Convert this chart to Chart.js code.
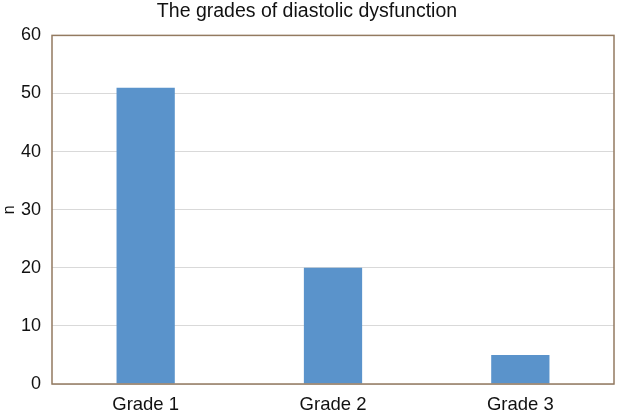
<!DOCTYPE html>
<html>
<head>
<meta charset="utf-8">
<script src="https://cdn.jsdelivr.net/npm/chart.js@4"></script>
<style>
  html, body { margin: 0; padding: 0; background: #fff; }
  #wrap { width: 624px; height: 411px; }
</style>
</head>
<body>
<div id="wrap"><canvas id="chart"></canvas></div>
<script>
const categories = ['Grade 1', 'Grade 2', 'Grade 3']
const counts = [51, 20, 5]
const yTicks = [0, 10, 20, 30, 40, 50, 60]

const fontFamily = "'Liberation Sans', Arial, sans-serif"

// Draws the brown frame round the plot area
const frame = {
  id: 'frame',
  afterDraw(chart) {
    const { ctx, chartArea: a } = chart
    ctx.save()
    ctx.strokeStyle = '#937a60'
    ctx.lineWidth = 1.5
    ctx.strokeRect(a.left, a.top, a.right - a.left, a.bottom - a.top)
    ctx.restore()
  }
}

const ctx = document.getElementById('chart').getContext('2d')
new Chart(ctx, {
  type: 'bar',
  data: {
    labels: categories,
    datasets: [{
      label: 'n',
      data: counts,
      backgroundColor: '#5a93cb',
      borderWidth: 0,
      categoryPercentage: 1,
      barPercentage: 0.311
    }]
  },
  options: {
    responsive: true,
    maintainAspectRatio: false,
    animation: false,
    devicePixelRatio: 1,
    layout: { padding: { left: 0, right: 10, top: 0, bottom: 0 } },
    plugins: {
      legend: { display: false },
      tooltip: { enabled: false },
      title: {
        display: true,
        text: 'The grades of diastolic dysfunction',
        color: '#111',
        font: { family: fontFamily, size: 19.5, weight: 'normal' },
        padding: { top: 0, bottom: 12 }
      }
    },
    scales: {
      x: {
        grid: { display: false },
        border: { display: false },
        ticks: {
          color: '#111',
          padding: 2,
          font: { family: fontFamily, size: 18.5 }
        },
        afterFit(scale) { scale.height = 27 }
      },
      y: {
        min: 0,
        max: 60,
        afterBuildTicks(scale) { scale.ticks = yTicks.map(v => ({ value: v })) },
        grid: { color: '#d9d9d9', drawTicks: false },
        border: { display: false },
        title: {
          display: true,
          text: 'n',
          color: '#111',
          padding: 0,
          font: { family: fontFamily, size: 16 }
        },
        ticks: {
          color: '#111',
          padding: 11,
          font: { family: fontFamily, size: 18 }
        },
        afterFit(scale) { scale.width = 52 }
      }
    }
  },
  plugins: [frame]
})
</script>
</body>
</html>
